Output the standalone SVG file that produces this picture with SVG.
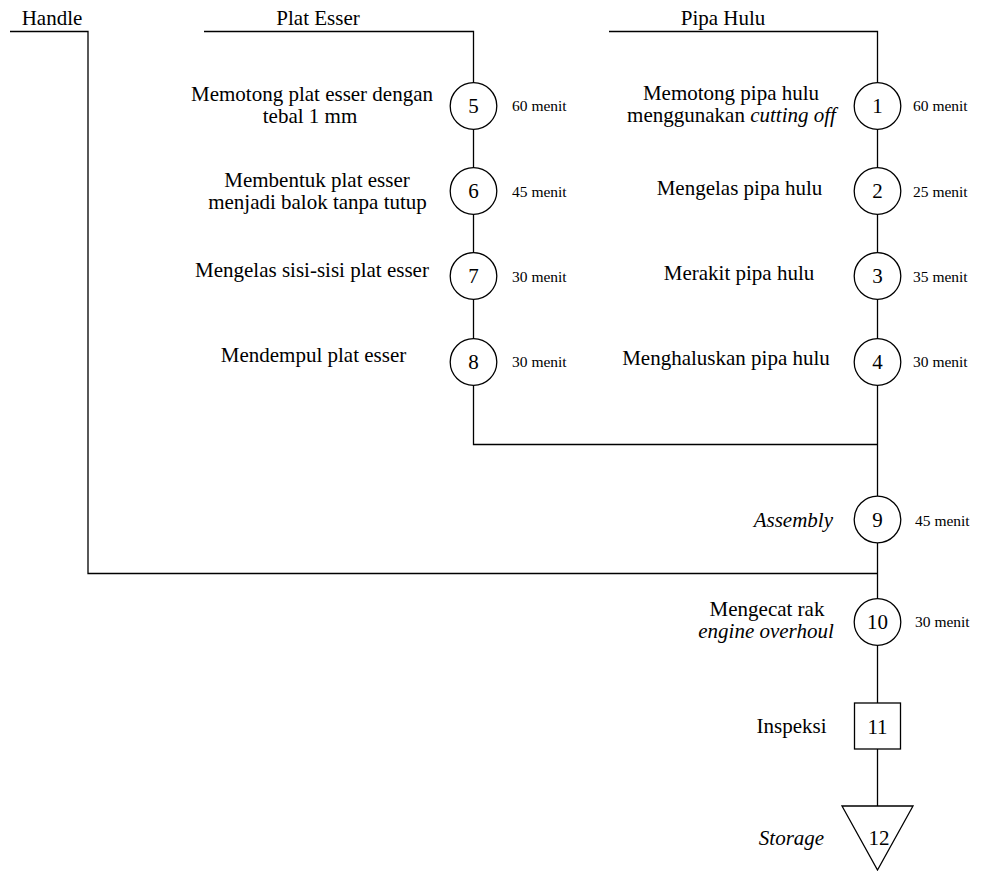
<svg xmlns="http://www.w3.org/2000/svg" width="981" height="871" viewBox="0 0 981 871" font-family="'Liberation Serif', 'Times New Roman', serif">
<style>
.ln{fill:none;stroke:#000;stroke-width:1.3}
.nd{fill:#fff;stroke:#000;stroke-width:1.3}
text{font-family:"Liberation Serif","Times New Roman",serif;fill:#000}
.lb{font-family:"Liberation Serif","Times New Roman",serif;font-size:21px;text-anchor:middle}
.num{font-family:"Liberation Serif","Times New Roman",serif;font-size:21px;text-anchor:middle}
.mn{font-family:"Liberation Serif","Times New Roman",serif;font-size:15.5px}
.it{font-style:italic}
</style>
<rect width="981" height="871" fill="#fff"/>
<g id="connectors">
<polyline class="ln" points="10,31.5 88,31.5 88,573.5 877.5,573.5"/>
<polyline class="ln" points="204,31.5 473.5,31.5 473.5,83"/>
<line class="ln" x1="473.5" y1="129" x2="473.5" y2="168"/>
<line class="ln" x1="473.5" y1="214" x2="473.5" y2="253"/>
<line class="ln" x1="473.5" y1="299" x2="473.5" y2="339"/>
<polyline class="ln" points="473.5,385 473.5,444.5 877.5,444.5"/>
<polyline class="ln" points="609,31.5 877.5,31.5 877.5,83"/>
<line class="ln" x1="877.5" y1="129" x2="877.5" y2="168"/>
<line class="ln" x1="877.5" y1="214" x2="877.5" y2="253"/>
<line class="ln" x1="877.5" y1="299" x2="877.5" y2="339"/>
<line class="ln" x1="877.5" y1="385" x2="877.5" y2="496"/>
<line class="ln" x1="877.5" y1="543" x2="877.5" y2="598.5"/>
<line class="ln" x1="877.5" y1="645.5" x2="877.5" y2="703"/>
<line class="ln" x1="877.5" y1="749" x2="877.5" y2="806"/>
</g>
<g id="source-handle"><text x="52" y="25" class="lb" font-family="'Liberation Serif', serif">Handle</text></g>
<g id="source-plat-esser"><text x="318" y="25" class="lb" font-family="'Liberation Serif', serif">Plat Esser</text></g>
<g id="source-pipa-hulu"><text x="723" y="25" class="lb" font-family="'Liberation Serif', serif">Pipa Hulu</text></g>
<g id="node5">
<circle class="nd" cx="473.5" cy="106" r="23.3"/>
<text x="473.5" y="113" class="num">5</text>
<text x="312" y="101" class="lb" font-family="'Liberation Serif', serif">Memotong plat esser dengan</text>
<text x="310" y="123" class="lb" font-family="'Liberation Serif', serif">tebal 1 mm</text>
<text x="512" y="111" class="mn">60 menit</text>
</g>
<g id="node6">
<circle class="nd" cx="473.5" cy="191" r="23.3"/>
<text x="473.5" y="198" class="num">6</text>
<text x="317" y="186.5" class="lb" font-family="'Liberation Serif', serif">Membentuk plat esser</text>
<text x="317.5" y="208.5" class="lb" font-family="'Liberation Serif', serif">menjadi balok tanpa tutup</text>
<text x="512" y="196.5" class="mn">45 menit</text>
</g>
<g id="node7">
<circle class="nd" cx="473.5" cy="276" r="23.3"/>
<text x="473.5" y="283" class="num">7</text>
<text x="312" y="276.5" class="lb" font-family="'Liberation Serif', serif">Mengelas sisi-sisi plat esser</text>
<text x="512" y="281.5" class="mn">30 menit</text>
</g>
<g id="node8">
<circle class="nd" cx="473.5" cy="362" r="23.3"/>
<text x="473.5" y="369" class="num">8</text>
<text x="313.5" y="362" class="lb" font-family="'Liberation Serif', serif">Mendempul plat esser</text>
<text x="512" y="367" class="mn">30 menit</text>
</g>
<g id="node1">
<circle class="nd" cx="877.5" cy="106" r="23.3"/>
<text x="877.5" y="113" class="num">1</text>
<text x="731" y="100" class="lb" font-family="'Liberation Serif', serif">Memotong pipa hulu</text>
<text x="731.5" y="122" class="lb" font-family="'Liberation Serif', serif">menggunakan <tspan font-style="italic">cutting off</tspan></text>
<text x="913" y="111" class="mn">60 menit</text>
</g>
<g id="node2">
<circle class="nd" cx="877.5" cy="191" r="23.3"/>
<text x="877.5" y="198" class="num">2</text>
<text x="739.5" y="195" class="lb" font-family="'Liberation Serif', serif">Mengelas pipa hulu</text>
<text x="913" y="196.5" class="mn">25 menit</text>
</g>
<g id="node3">
<circle class="nd" cx="877.5" cy="276" r="23.3"/>
<text x="877.5" y="283" class="num">3</text>
<text x="739" y="280" class="lb" font-family="'Liberation Serif', serif">Merakit pipa hulu</text>
<text x="913" y="281.5" class="mn">35 menit</text>
</g>
<g id="node4">
<circle class="nd" cx="877.5" cy="362" r="23.3"/>
<text x="877.5" y="369" class="num">4</text>
<text x="726" y="365" class="lb" font-family="'Liberation Serif', serif">Menghaluskan pipa hulu</text>
<text x="913" y="367" class="mn">30 menit</text>
</g>
<g id="node9">
<circle class="nd" cx="877.5" cy="519.5" r="23.3"/>
<text x="877.5" y="526.5" class="num">9</text>
<text x="833" y="527" class="lb" font-family="'Liberation Serif', serif" font-style="italic" style="text-anchor:end">Assembly</text>
<text x="915" y="526" class="mn">45 menit</text>
</g>
<g id="node10">
<circle class="nd" cx="877.5" cy="622" r="23.3"/>
<text x="877.5" y="629" class="num">10</text>
<text x="767" y="616" class="lb" font-family="'Liberation Serif', serif">Mengecat rak</text>
<text x="766" y="638" class="lb" font-family="'Liberation Serif', serif" font-style="italic">engine overhoul</text>
<text x="915" y="627" class="mn">30 menit</text>
</g>
<g id="node11">
<rect class="nd" x="854.5" y="703" width="46" height="46"/>
<text x="877.5" y="733.5" class="num">11</text>
<text x="791.5" y="733" class="lb" font-family="'Liberation Serif', serif">Inspeksi</text>
</g>
<g id="node12">
<polygon class="nd" points="842,806 913,806 877.5,870"/>
<text x="879" y="845" class="num">12</text>
<text x="791.5" y="845" class="lb" font-family="'Liberation Serif', serif" font-style="italic">Storage</text>
</g>
</svg>
